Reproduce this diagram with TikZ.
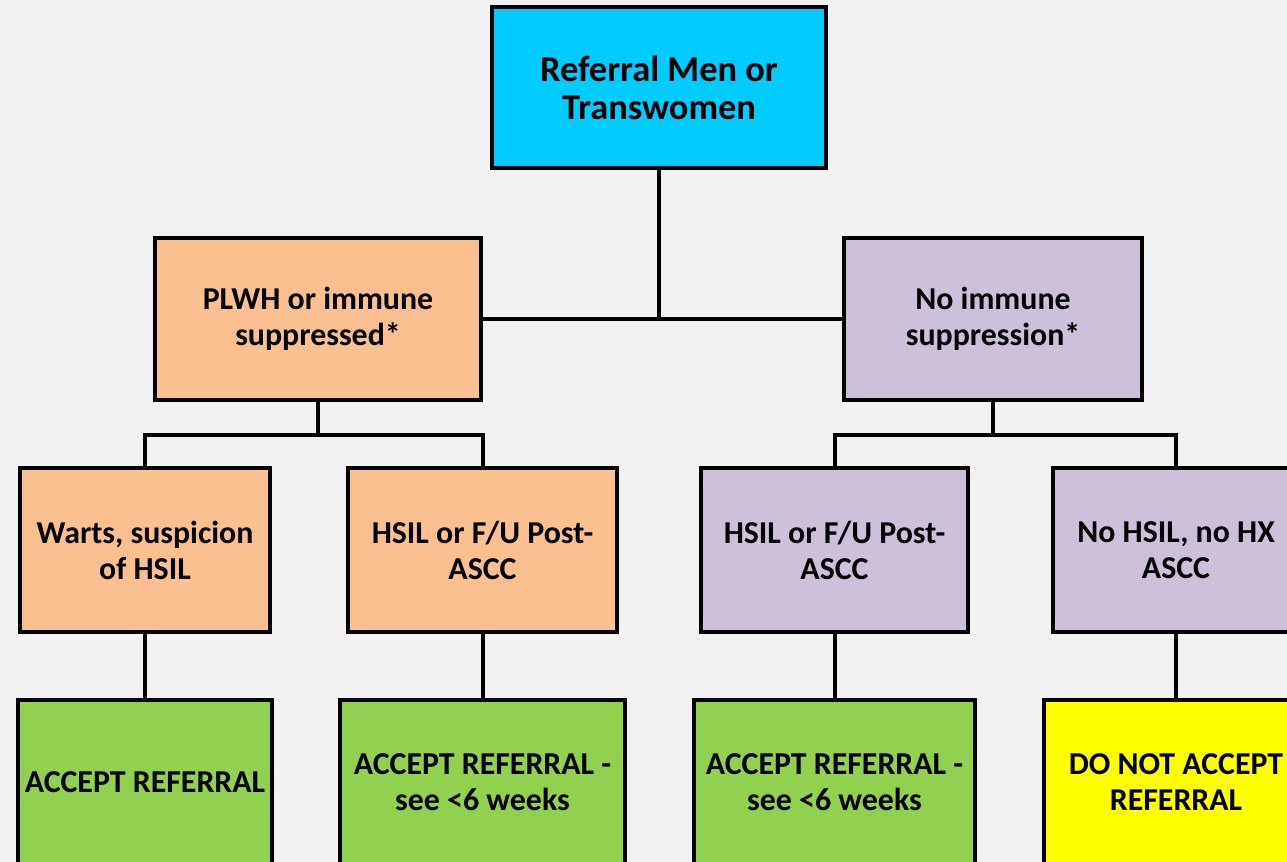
\documentclass[tikz,border=0pt]{standalone}
\usepackage{fontspec}
\setmainfont{Carlito}
\definecolor{bgcol}{HTML}{F2F2F2}
\definecolor{cyanbox}{HTML}{00CCFF}
\definecolor{orangebox}{HTML}{FAC090}
\definecolor{purplebox}{HTML}{CCC0DA}
\definecolor{greenbox}{HTML}{92D050}
\definecolor{yellowbox}{HTML}{FFFF00}
\begin{document}
\begin{tikzpicture}[x=0.75pt,y=-0.75pt,
  box/.style={draw=black, line width=3pt, align=center, inner sep=0pt,
    font=\bfseries\fontsize{23.9}{27}\selectfont},
  conn/.style={draw=black, line width=3pt}]
\useasboundingbox (0,0) rectangle (1287,862);
\clip (0,0) rectangle (1287,862);
\fill[bgcol] (0,0) rectangle (1287,862);

\node[box, fill=cyanbox, minimum width=250.5pt, minimum height=120.75pt,
  font=\bfseries\fontsize{27.3}{28.5}\selectfont] (top) at (659,87.5) {Referral Men or\\Transwomen};
\node[box, fill=orangebox, minimum width=244.5pt, minimum height=121.5pt] (lm) at (318,319) {PLWH or immune\\suppressed*};
\node[box, fill=purplebox, minimum width=223.5pt, minimum height=121.5pt] (rm) at (993,319) {No immune\\suppression*};

\node[box, fill=orangebox, minimum width=187.5pt, minimum height=123pt] (warts) at (145,550) {Warts, suspicion\\of HSIL};
\node[box, fill=orangebox, minimum width=201.75pt, minimum height=123pt] (hsill) at (482.5,550) {HSIL or F/U Post-\\ASCC};
\node[box, fill=purplebox, minimum width=200.25pt, minimum height=123pt] (hsilr) at (834.5,550) {HSIL or F/U Post-\\ASCC};
\node[box, fill=purplebox, minimum width=184.5pt, minimum height=123pt] (nohsil) at (1176,550) {No HSIL, no HX\\ASCC};

\node[box, fill=greenbox, minimum width=190.5pt, minimum height=123pt] (acc1) at (145,782) {ACCEPT REFERRAL};
\node[box, fill=greenbox, minimum width=213.75pt, minimum height=123pt] (acc2) at (482.5,782) {ACCEPT REFERRAL -\\see <6 weeks};
\node[box, fill=greenbox, minimum width=210.75pt, minimum height=123pt] (acc3) at (834.5,782) {ACCEPT REFERRAL -\\see <6 weeks};
\node[box, fill=yellowbox, minimum width=198pt, minimum height=123pt] (noacc) at (1176,782) {DO NOT ACCEPT\\REFERRAL};

\coordinate (lj) at (318,435);
\coordinate (rj) at (993,435);

\draw[conn] (lm.east) -- (rm.west);
\draw[conn] (top.south) -- (top.south |- lm.east);
\draw[conn] (lm.south) -- (lj);
\draw[conn] (rm.south) -- (rj);
\draw[conn] (warts.north) |- (lj) -| (hsill.north);
\draw[conn] (hsilr.north) |- (rj) -| (nohsil.north);
\draw[conn] (warts.south) -- (acc1.north);
\draw[conn] (hsill.south) -- (acc2.north);
\draw[conn] (hsilr.south) -- (acc3.north);
\draw[conn] (nohsil.south) -- (noacc.north);
\end{tikzpicture}
\end{document}
